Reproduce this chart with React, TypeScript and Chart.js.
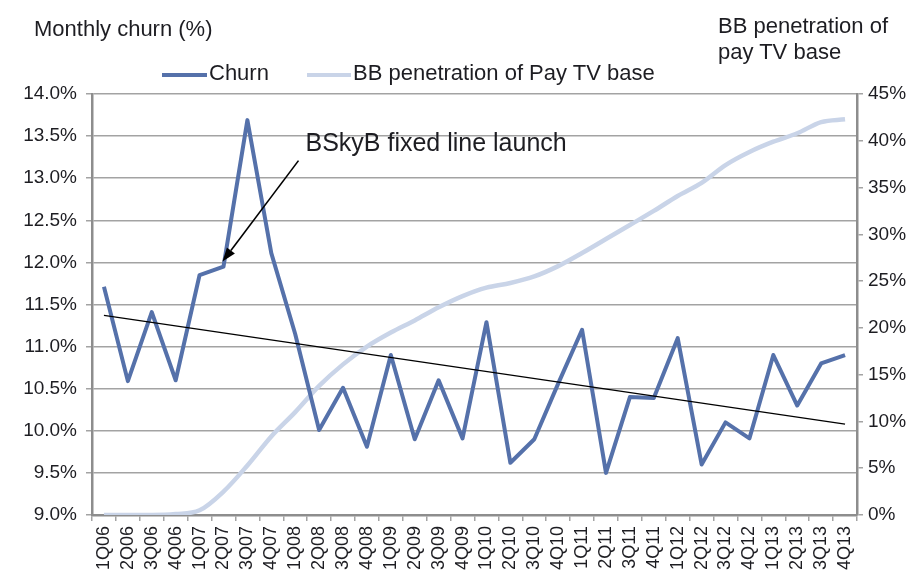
import React, { useEffect, useRef } from 'react';
import { Chart, registerables } from 'chart.js';

Chart.register(...registerables);

// ---------- data ----------
const quarters = [
  '1Q06', '2Q06', '3Q06', '4Q06',
  '1Q07', '2Q07', '3Q07', '4Q07',
  '1Q08', '2Q08', '3Q08', '4Q08',
  '1Q09', '2Q09', '3Q09', '4Q09',
  '1Q10', '2Q10', '3Q10', '4Q10',
  '1Q11', '2Q11', '3Q11', '4Q11',
  '1Q12', '2Q12', '3Q12', '4Q12',
  '1Q13', '2Q13', '3Q13', '4Q13',
];

// Monthly churn (%), left axis
const churn = [
  11.71, 10.59, 11.41, 10.6,
  11.85, 11.95, 13.69, 12.11,
  11.15, 10.01, 10.51, 9.81,
  10.9, 9.9, 10.6, 9.91,
  11.29, 9.62, 9.9, 10.56,
  11.2, 9.5, 10.4, 10.39,
  11.1, 9.6, 10.1, 9.91,
  10.9, 10.3, 10.8, 10.9,
];

// BB penetration of Pay TV base (%), right axis
const penetration = [
  0, 0, 0, 0.1,
  0.5, 2.5, 5.3, 8.4,
  11.0, 13.8, 16.1, 18.0,
  19.5, 20.8, 22.2, 23.4,
  24.3, 24.8, 25.5, 26.6,
  28.0, 29.5, 31.0, 32.5,
  34.1, 35.5, 37.4, 38.8,
  39.9, 40.8, 42.0, 42.3,
];

// Trend line on churn: value at first and last quarter
const trendStart = 11.37;
const trendEnd = 10.08;
const trend = quarters.map((_, i) =>
  i === 0 ? trendStart : i === quarters.length - 1 ? trendEnd : null
);

const leftTicks = { min: 9, max: 14, step: 0.5 };
const rightTicks = { min: 0, max: 45, step: 5 };

const annotationLabel = 'BSkyB fixed line launch';
const annotationQuarter = '2Q07';

// ---------- styles ----------
const FONT = '"Liberation Sans", Arial, Helvetica, sans-serif';
const TEXT = '#1d1d22';
const CHURN_COLOR = '#5571aa';
const BB_COLOR = '#c9d4e8';
const GRID = '#a3a3a3';
const AXIS = '#8d8d8d';

const annotationPlugin = {
  id: 'bskybAnnotation',
  afterDatasetsDraw(chart: any) {
    const idx = quarters.indexOf(annotationQuarter);
    const px = chart.scales.x.getPixelForValue(idx);
    const py = chart.scales.y.getPixelForValue(churn[idx]);
    const ctx = chart.ctx as CanvasRenderingContext2D;
    const tipX = px - 1;
    const tipY = py - 5;
    const tailX = px + 75;
    const tailY = py - 106;
    ctx.save();
    ctx.strokeStyle = '#000';
    ctx.fillStyle = '#000';
    ctx.lineWidth = 1.6;
    const ang = Math.atan2(tipY - tailY, tipX - tailX);
    const headLen = 14;
    const headHalf = 5;
    const bx = tipX - headLen * Math.cos(ang);
    const by = tipY - headLen * Math.sin(ang);
    ctx.beginPath();
    ctx.moveTo(tailX, tailY);
    ctx.lineTo(bx, by);
    ctx.stroke();
    ctx.beginPath();
    ctx.moveTo(tipX, tipY);
    ctx.lineTo(bx + headHalf * Math.sin(ang), by - headHalf * Math.cos(ang));
    ctx.lineTo(bx - headHalf * Math.sin(ang), by + headHalf * Math.cos(ang));
    ctx.closePath();
    ctx.fill();
    ctx.font = `25px ${FONT}`;
    ctx.fillStyle = TEXT;
    ctx.textAlign = 'left';
    ctx.textBaseline = 'alphabetic';
    ctx.fillText(annotationLabel, px + 82, py - 116);
    ctx.restore();
  },
};

export default function App() {
  const ref = useRef<HTMLCanvasElement>(null);

  useEffect(() => {
    if (!ref.current) return;
    const chart = new Chart(ref.current, {
      type: 'line',
      data: {
        labels: quarters,
        datasets: [
          {
            label: 'Trend',
            data: trend as any,
            borderColor: '#000',
            borderWidth: 1.3,
            pointRadius: 0,
            spanGaps: true,
            yAxisID: 'y',
            order: 0,
          },
          {
            label: 'Churn',
            data: churn,
            borderColor: CHURN_COLOR,
            borderWidth: 4,
            pointRadius: 0,
            tension: 0,
            borderJoinStyle: 'round',
            yAxisID: 'y',
            order: 1,
          },
          {
            label: 'BB penetration of Pay TV base',
            data: penetration,
            borderColor: BB_COLOR,
            borderWidth: 4.5,
            pointRadius: 0,
            cubicInterpolationMode: 'monotone',
            yAxisID: 'y1',
            order: 2,
          },
        ],
      },
      options: {
        responsive: false,
        animation: false,
        layout: { padding: { top: 94, left: 0, right: 0, bottom: 0 } },
        plugins: {
          legend: { display: false },
          tooltip: { enabled: false },
        },
        scales: {
          x: {
            type: 'category',
            offset: true,
            grid: {
              display: true,
              drawOnChartArea: false,
              drawTicks: true,
              tickLength: 6,
              color: GRID,
              lineWidth: 1.5,
              offset: true,
            },
            border: { color: AXIS, width: 2.5 },
            ticks: {
              autoSkip: false,
              minRotation: 90,
              maxRotation: 90,
              padding: 5,
              color: TEXT,
              font: { family: FONT, size: 18 },
            },
            afterFit: (s: any) => {
              s.height = 66;
            },
          },
          y: {
            position: 'left',
            min: leftTicks.min,
            max: leftTicks.max,
            ticks: {
              stepSize: leftTicks.step,
              padding: 9,
              color: TEXT,
              font: { family: FONT, size: 19 },
              callback: (v: any) => Number(v).toFixed(1) + '%',
            },
            grid: { color: GRID, lineWidth: 1.5, tickLength: 6 },
            border: { color: AXIS, width: 2.5 },
            afterFit: (s: any) => {
              s.width = 92;
            },
          },
          y1: {
            position: 'right',
            min: rightTicks.min,
            max: rightTicks.max,
            ticks: {
              stepSize: rightTicks.step,
              padding: 5,
              color: TEXT,
              font: { family: FONT, size: 19 },
              callback: (v: any) => Number(v) + '%',
            },
            grid: { drawOnChartArea: false, color: GRID, lineWidth: 1.5, tickLength: 6 },
            border: { color: AXIS, width: 2.5 },
            afterFit: (s: any) => {
              s.width = 67;
            },
          },
        },
      } as any,
      plugins: [annotationPlugin],
    });
    return () => chart.destroy();
  }, []);

  const abs = (o: React.CSSProperties): React.CSSProperties => ({ position: 'absolute', ...o });

  return (
    <div
      style={{
        position: 'absolute',
        left: 0,
        top: 0,
        width: 924,
        height: 581,
        background: '#fff',
        fontFamily: FONT,
        color: TEXT,
        overflow: 'hidden',
      }}
    >
      <canvas ref={ref} width={924} height={581} style={{ display: 'block' }} />
      <div style={abs({ left: 34, top: 18, fontSize: 22, lineHeight: '22px', whiteSpace: 'nowrap' })}>
        Monthly churn (%)
      </div>
      <div style={abs({ left: 718, top: 13, fontSize: 22, lineHeight: '25.6px', whiteSpace: 'nowrap' })}>
        BB penetration of
        <br />
        pay TV base
      </div>
      <div style={abs({ left: 162, top: 73, width: 45, height: 4, background: CHURN_COLOR })} />
      <div style={abs({ left: 209, top: 62, fontSize: 22, lineHeight: '22px', whiteSpace: 'nowrap' })}>
        Churn
      </div>
      <div style={abs({ left: 307, top: 73, width: 44, height: 4, background: BB_COLOR })} />
      <div style={abs({ left: 353, top: 62, fontSize: 22, lineHeight: '22px', whiteSpace: 'nowrap' })}>
        BB penetration of Pay TV base
      </div>
    </div>
  );
}
